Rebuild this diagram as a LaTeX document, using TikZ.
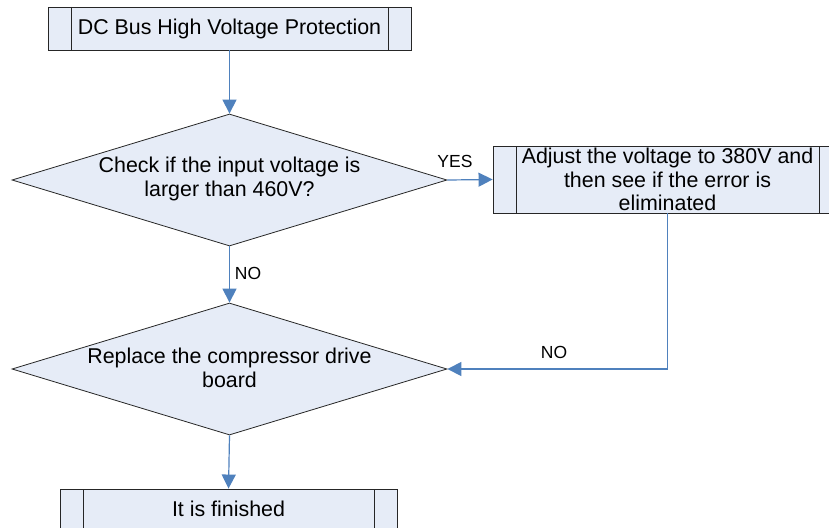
\documentclass[tikz,border=0pt]{standalone}
\usepackage{fontspec}
\setmainfont{Liberation Sans}
\usetikzlibrary{shapes.geometric,arrows.meta}
\definecolor{fillc}{HTML}{E6ECF7}
\definecolor{arrc}{HTML}{4F81BD}
\definecolor{edgec}{HTML}{262626}
\begin{document}
\begin{tikzpicture}[x=1pt,y=-1pt,
 txt/.style={font=\fontsize{21.4}{23.5}\selectfont, align=center, inner sep=0pt},
 procbox/.style={txt, draw=edgec, line width=0.9pt, fill=fillc, rectangle,
   path picture={\draw[line width=0.9pt, edgec]
     ([xshift=23pt]path picture bounding box.north west) -- ([xshift=23pt]path picture bounding box.south west)
     ([xshift=-23pt]path picture bounding box.north east) -- ([xshift=-23pt]path picture bounding box.south east);}},
 dia/.style={draw=edgec, line width=0.8pt, fill=fillc, diamond, inner sep=0pt,
   minimum width=435pt, minimum height=132pt},
 lbl/.style={font=\fontsize{17.5}{20}\selectfont, inner sep=0pt},
 conn/.style={draw=arrc, line width=1.2pt, -{Triangle[width=14pt,length=14pt]}}
]
\useasboundingbox (0,0) rectangle (829,527);
\clip (0,0) rectangle (829,527);
\fill[white] (0,0) rectangle (829,527);

\node[procbox, minimum width=363pt, minimum height=43pt] (b1) at (229.5,28.5) {DC Bus High Voltage Protection};

\node[dia] (d1) at (229.5,180) {};
\node[txt] (t1) at (229.5,179) {Check if the input voltage is\\larger than 460V?};

\node[procbox, minimum width=349pt, minimum height=67pt] (b2) at (667.5,179.5) {Adjust the voltage to 380V and\\then see if the error is\\eliminated};

\node[dia, minimum height=132pt] (d2) at (229.5,369) {};
\node[txt] (t2) at (229.5,368) {Replace the compressor drive\\board};

\node[procbox, minimum width=337pt, minimum height=40pt] (b3) at (228.5,509) {It is finished};

\draw[conn] (b1.south) -- (d1.north);
\draw[conn] (d1.east) -- (b2.west);
\node[lbl] (yes) at (455,161) {YES};
\draw[conn] (d1.south) -- (d2.north);
\node[lbl] (no1) at (248,273) {NO};
\draw[conn] (b2.south) |- (d2.east);
\node[lbl] (no2) at (554,352) {NO};
\draw[conn] (d2.south) -- (b3.north);
\end{tikzpicture}
\end{document}
